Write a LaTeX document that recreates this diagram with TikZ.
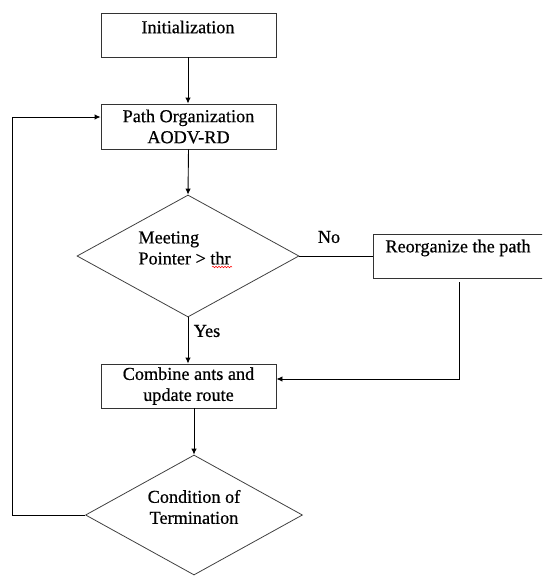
\documentclass[tikz,border=0pt]{standalone}
\usepackage{fontspec}
\setmainfont{Liberation Serif}
\newfontfamily\timesf[FakeBold=0.6]{Liberation Serif}
\usetikzlibrary{shapes.geometric,arrows.meta,decorations.pathmorphing}
\begin{document}
\begin{tikzpicture}[x=1pt,y=-1pt,
  line width=0.9pt,
  every node/.style={font=\timesf\fontsize{18.2}{21}\selectfont},
  box/.style={draw=black!80, rectangle, inner sep=0pt},
  decision/.style={draw=black!75, diamond, inner sep=0pt, line width=0.8pt},
  txt/.style={inner sep=0pt, align=center},
  flow/.style={draw=black, -{Latex[length=6pt,width=5.5pt]}},
  plain/.style={draw=black}]
\useasboundingbox (0,0) rectangle (542,576);
\clip (0,0) rectangle (542,576);
% boxes
\node[box, minimum width=175pt, minimum height=44pt] (init) at (188.5,35) {};
\node[txt] (initt) at (188,27) {Initialization};
\node[box, minimum width=175pt, minimum height=45pt, txt] (path) at (188.5,126.5) {Path Organization\\AODV-RD};
\node[decision, minimum width=222pt, minimum height=122pt] (dec1) at (188,256) {};
\node[txt, align=left, anchor=west] (dect) at (138,248) {Meeting\\Pointer > thr};
\draw[red, line width=0.5pt, decorate, decoration={snake, amplitude=0.8pt, segment length=3pt}] (212,267) -- (232,267);
\node[box, minimum width=180pt, minimum height=44pt] (reorg) at (463,256) {};
\node[txt, anchor=west] (reorgt) at (385,248) {Reorganize the path};
\node[box, minimum width=175pt, minimum height=44pt, txt] (comb) at (188.5,386) {Combine ants and\\update route};
\node[decision, minimum width=217pt, minimum height=120pt] (dec2) at (194,515) {};
\node[txt] (dec2t) at (194,507) {Condition of\\Termination};
\node[txt] (no) at (329,237) {No};
\node[txt] (yes) at (207,331) {Yes};
% connectors
\draw[flow] (init.south -| 188,0) -- (path.north -| 188,0);
\draw[flow] (path.south) -- (dec1.north);
\draw[plain] (dec1.east) -- (reorg.west |- dec1.east);
\draw[flow] (dec1.south) -- (comb.north -| dec1.south);
\coordinate (rdown) at (459,282);
\draw[flow] (rdown) -- (459,379) -- (comb.east |- 0,379);
\draw[flow] (comb.south -| dec2.north) -- (dec2.north);
\draw[flow] (dec2.west) -- (12,515) -- (12,117) -- (path.west |- 0,117);
\end{tikzpicture}
\end{document}
